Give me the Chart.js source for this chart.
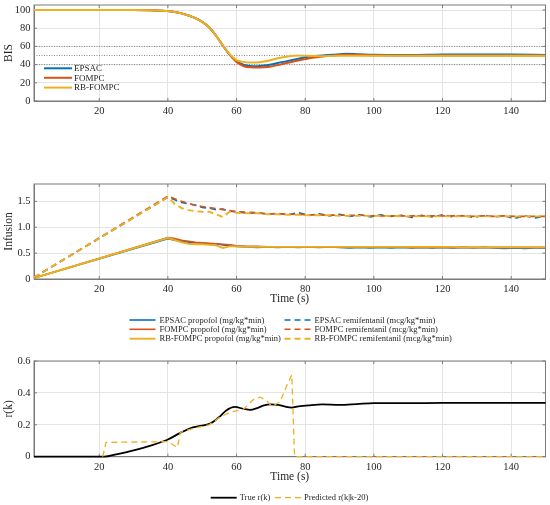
<!DOCTYPE html>
<html>
<head>
<meta charset="utf-8">
<script src="https://cdn.jsdelivr.net/npm/chart.js@4.4.1/dist/chart.umd.min.js"></script>
<style>
  html, body { margin: 0; padding: 0; background: #fff; }
  .panel { position: absolute; left: 0; width: 550px; }
</style>
</head>
<body>
<div class="panel" style="top:0"><canvas id="bisChart" width="550" height="125"></canvas></div>
<div class="panel" style="top:175px"><canvas id="infChart" width="550" height="175"></canvas></div>
<div class="panel" style="top:350px"><canvas id="rChart" width="550" height="155"></canvas></div>
<script>
// 세 개의 패널: BIS, 주입량(infusion), r(k) 예측
const xTicks = [20, 40, 60, 80, 100, 120, 140];

// --- BIS ---
const bisT = [1, 30, 35, 38, 40, 42, 44, 46, 48, 50, 52, 54, 56, 58, 60, 62, 64, 66, 68, 70, 72, 75, 78, 80, 82, 85, 88, 92, 95, 100, 110, 120, 130, 140, 150];
const bisEPSAC = [100, 100, 99.8, 99.3, 98.8, 97.8, 96.3, 94, 91, 87, 81, 72, 61, 51, 44, 40, 38.5, 38.3, 39, 40, 41.8, 44, 46.5, 48, 49.3, 50, 50.8, 51.8, 51.5, 50.7, 50.5, 51, 51.2, 51, 50.6];
const bisFOMPC = [100, 100, 99.8, 99.3, 98.8, 97.8, 96.3, 94, 91, 87, 81, 72, 61, 51, 43, 38.5, 37, 36.8, 37.2, 38, 39.5, 42, 44.5, 46, 47.5, 49, 50, 51, 50.8, 50.3, 50.1, 50, 50, 50, 50];
const bisRB = [100, 100, 99.8, 99.3, 98.8, 97.8, 96.3, 94, 91, 87, 81, 72, 61, 51.5, 45, 43, 42.3, 42.3, 43.3, 45, 47, 49, 50, 49.7, 49.5, 49.3, 49.5, 49.8, 49.8, 49.8, 49.8, 49.6, 49.7, 49.8, 49.8];
const bisRefLevels = [40, 50, 60];
const bisYTicks = [0, 20, 40, 60, 80, 100];

// --- Infusion ---
const infT = [1, 40, 42, 44, 46, 48, 50, 52, 54, 56, 58, 60, 63, 66, 69, 72, 75, 78, 81, 84, 87, 90, 93, 96, 99, 102, 105, 108, 111, 114, 117, 120, 123, 126, 129, 132, 135, 138, 141, 144, 147, 150];
const propEPSAC = [0.02, 0.78, 0.75, 0.73, 0.71, 0.70, 0.69, 0.68, 0.68, 0.66, 0.65, 0.63, 0.62, 0.61, 0.62, 0.61, 0.62, 0.61, 0.62, 0.61, 0.62, 0.61, 0.60, 0.61, 0.60, 0.61, 0.60, 0.61, 0.60, 0.61, 0.60, 0.61, 0.60, 0.61, 0.60, 0.61, 0.60, 0.59, 0.60, 0.59, 0.60, 0.60];
const propFOMPC = [0.02, 0.80, 0.78, 0.75, 0.73, 0.71, 0.70, 0.69, 0.68, 0.67, 0.66, 0.64, 0.63, 0.63, 0.62, 0.62, 0.62, 0.62, 0.62, 0.62, 0.62, 0.62, 0.62, 0.62, 0.62, 0.62, 0.62, 0.62, 0.61, 0.61, 0.61, 0.61, 0.61, 0.61, 0.61, 0.61, 0.61, 0.61, 0.61, 0.61, 0.61, 0.61];
const propRB = [0.02, 0.79, 0.75, 0.71, 0.68, 0.67, 0.67, 0.66, 0.65, 0.60, 0.63, 0.63, 0.62, 0.62, 0.62, 0.62, 0.62, 0.62, 0.62, 0.62, 0.62, 0.62, 0.62, 0.62, 0.62, 0.62, 0.62, 0.62, 0.62, 0.62, 0.62, 0.62, 0.62, 0.61, 0.61, 0.61, 0.61, 0.61, 0.61, 0.61, 0.61, 0.61];
const remiEPSAC = [0.03, 1.58, 1.53, 1.48, 1.45, 1.43, 1.38, 1.37, 1.34, 1.35, 1.31, 1.30, 1.27, 1.28, 1.25, 1.27, 1.24, 1.28, 1.23, 1.26, 1.22, 1.25, 1.21, 1.24, 1.20, 1.24, 1.21, 1.23, 1.19, 1.23, 1.20, 1.24, 1.20, 1.23, 1.19, 1.23, 1.20, 1.22, 1.17, 1.22, 1.18, 1.21];
const remiFOMPC = [0.03, 1.60, 1.55, 1.50, 1.46, 1.42, 1.40, 1.38, 1.36, 1.34, 1.32, 1.30, 1.29, 1.28, 1.26, 1.26, 1.25, 1.25, 1.24, 1.24, 1.23, 1.23, 1.23, 1.23, 1.22, 1.22, 1.22, 1.22, 1.22, 1.22, 1.22, 1.22, 1.22, 1.22, 1.21, 1.22, 1.21, 1.22, 1.21, 1.21, 1.21, 1.21];
const remiRB = [0.03, 1.58, 1.45, 1.37, 1.33, 1.31, 1.30, 1.30, 1.25, 1.20, 1.30, 1.28, 1.27, 1.27, 1.25, 1.25, 1.24, 1.24, 1.23, 1.23, 1.23, 1.22, 1.22, 1.22, 1.22, 1.22, 1.22, 1.21, 1.21, 1.21, 1.21, 1.21, 1.21, 1.21, 1.21, 1.21, 1.21, 1.21, 1.21, 1.21, 1.21, 1.21];
const infYTicks = [0, 0.5, 1, 1.5];

// --- r(k) ---
const trueT = [1, 21.5, 25, 30, 35, 40, 43.5, 46.5, 49.5, 52.5, 55, 57, 59.5, 62, 64, 66, 68, 70, 72, 74, 76, 78, 81, 85, 90, 95, 100, 110, 120, 130, 140, 150];
const trueR = [0, 0, 0.015, 0.04, 0.07, 0.108, 0.148, 0.178, 0.193, 0.21, 0.25, 0.29, 0.312, 0.30, 0.293, 0.305, 0.322, 0.328, 0.325, 0.315, 0.308, 0.315, 0.322, 0.328, 0.325, 0.33, 0.336, 0.336, 0.337, 0.337, 0.338, 0.338];
const predT = [21, 22, 40, 42.8, 43.6, 47, 52, 55, 58, 62, 65, 67, 69, 70.3, 72.7, 74.7, 76.1, 76.9, 150];
const predR = [0, 0.09, 0.094, 0.058, 0.152, 0.175, 0.2, 0.245, 0.278, 0.297, 0.36, 0.373, 0.345, 0.314, 0.345, 0.45, 0.513, 0, 0];
const rYTicks = [0, 0.2, 0.4, 0.6];

const BLUE = "#0072BD", ORANGE = "#D95319", YELLOW = "#EDB120";
const GRID = "#e4e4e4", FRAME = "#7a7a7a", TXT = "#262626";
const SERIF = "'Liberation Serif', 'Times New Roman', serif";
const DASH = [6, 4];

function pts(xs, ys) {
  return xs.map((x, i) => ({ x: x, y: ys[i] }));
}

function line(label, xs, ys, color, extra) {
  return Object.assign({
    label: label, data: pts(xs, ys),
    borderColor: color, backgroundColor: color,
    borderWidth: 1.6, pointRadius: 0, tension: 0, fill: false,
  }, extra || {});
}

// 테두리(위/오른쪽 포함)와 안쪽 눈금 — 데이터 선 아래에 그린다
const frame = {
  id: "frame",
  beforeDatasetsDraw(chart) {
    const a = chart.chartArea, ctx = chart.ctx;
    const xs = chart.scales.x, ys = chart.scales.y;
    ctx.save();
    ctx.strokeStyle = FRAME;
    ctx.lineWidth = 1;
    ctx.strokeRect(a.left, a.top, a.right - a.left, a.bottom - a.top);
    ctx.beginPath();
    xs.ticks.forEach((t) => {
      const px = xs.getPixelForValue(t.value);
      ctx.moveTo(px, a.bottom); ctx.lineTo(px, a.bottom - 3);
      ctx.moveTo(px, a.top); ctx.lineTo(px, a.top + 3);
    });
    ys.ticks.forEach((t) => {
      const py = ys.getPixelForValue(t.value);
      ctx.moveTo(a.left, py); ctx.lineTo(a.left + 3, py);
      ctx.moveTo(a.right, py); ctx.lineTo(a.right - 3, py);
    });
    ctx.stroke();
    ctx.restore();
  },
};

// MATLAB 스타일 범례 — 위치는 옵션에서
const lineLegend = {
  id: "lineLegend",
  afterDraw(chart, args, o) {
    if (!o.entries) return;
    const ctx = chart.ctx;
    ctx.save();
    ctx.font = o.textFont;
    ctx.textBaseline = "middle";
    ctx.fillStyle = TXT;
    o.entries.forEach((e) => {
      const ds = chart.data.datasets[e.ds];
      ctx.strokeStyle = ds.borderColor;
      ctx.lineWidth = ds.borderWidth;
      ctx.setLineDash(ds.borderDash || []);
      ctx.beginPath();
      ctx.moveTo(e.x, e.y);
      ctx.lineTo(e.x + o.lineLen, e.y);
      ctx.stroke();
      ctx.setLineDash([]);
      ctx.fillText(ds.label, e.x + o.lineLen + o.gap, e.y + 0.5);
    });
    ctx.restore();
  },
};

function xScale(title) {
  return {
    type: "linear", min: 1, max: 150,
    afterBuildTicks: (s) => { s.ticks = xTicks.map((v) => ({ value: v })); },
    afterFit: (s) => {
      s.height = title ? 31 : 24;
      s.paddingLeft = 0; s.paddingRight = 0;
    },
    grid: { color: GRID, drawTicks: false },
    border: { color: FRAME },
    ticks: { padding: 4, color: TXT, font: { family: SERIF, size: 10.5 }, maxRotation: 0 },
    title: {
      display: !!title, text: title || "", color: TXT,
      font: { family: SERIF, size: 11.5 }, padding: { top: 0, bottom: 4 },
    },
  };
}

function yScale(title, max, tickVals) {
  return {
    type: "linear", min: 0, max: max,
    afterBuildTicks: (s) => { s.ticks = tickVals.map((v) => ({ value: v })); },
    afterFit: (s) => {
      s.width = 34;
      s.paddingTop = 0; s.paddingBottom = 0;
    },
    grid: { color: GRID, drawTicks: false },
    border: { color: FRAME },
    ticks: { padding: 3.5, color: TXT, font: { family: SERIF, size: 10.5 } },
    title: {
      display: true, text: title, color: TXT,
      font: { family: SERIF, size: 11.5 }, padding: { top: 2, bottom: 0 },
    },
  };
}

function baseOptions(pad, ytitle, ymax, yticks, xtitle, legend) {
  return {
    responsive: false,
    animation: false,
    layout: { padding: pad },
    plugins: { legend: { display: false }, tooltip: { enabled: false }, lineLegend: legend },
    scales: { x: xScale(xtitle), y: yScale(ytitle, ymax, yticks) },
  };
}

document.addEventListener("DOMContentLoaded", function () {
  const smooth = { cubicInterpolationMode: "monotone", borderWidth: 2 };

  // BIS
  const refSets = bisRefLevels.map((v) =>
    line("ref" + v, [1, 150], [v, v], "#7a7a7a", { borderWidth: 0.9, borderDash: [1, 1.5], order: 10 }));
  new Chart(document.getElementById("bisChart"), {
    type: "line",
    data: {
      datasets: [
        line("EPSAC", bisT, bisEPSAC, BLUE, Object.assign({ order: 3 }, smooth)),
        line("FOMPC", bisT, bisFOMPC, ORANGE, Object.assign({ order: 2 }, smooth)),
        line("RB-FOMPC", bisT, bisRB, YELLOW, Object.assign({ order: 1 }, smooth)),
      ].concat(refSets),
    },
    options: baseOptions({ top: 5, right: 4.5, left: 0, bottom: 0 }, "BIS", 105.5, bisYTicks, null, {
      textFont: "9px " + SERIF, lineLen: 28, gap: 2,
      entries: [{ ds: 0, x: 44, y: 68.3 }, { ds: 1, x: 44, y: 77.8 }, { ds: 2, x: 44, y: 87.6 }],
    }),
    plugins: [frame, lineLegend],
  });

  // Infusion
  new Chart(document.getElementById("infChart"), {
    type: "line",
    data: {
      datasets: [
        line("EPSAC propofol (mg/kg*min)", infT, propEPSAC, BLUE, { order: 6 }),
        line("FOMPC propofol (mg/kg*min)", infT, propFOMPC, ORANGE, { order: 5 }),
        line("RB-FOMPC propofol (mg/kg*min)", infT, propRB, YELLOW, { order: 4, borderWidth: 1.9 }),
        line("EPSAC remifentanil (mcg/kg*min)", infT, remiEPSAC, BLUE, { order: 3, borderDash: DASH }),
        line("FOMPC remifentanil (mcg/kg*min)", infT, remiFOMPC, ORANGE, { order: 2, borderDash: DASH }),
        line("RB-FOMPC remifentanil (mcg/kg*min)", infT, remiRB, YELLOW, { order: 1, borderDash: DASH, borderWidth: 1.9 }),
      ],
    },
    options: baseOptions({ top: 9, right: 4.5, left: 0, bottom: 40 }, "Infusion", 1.835, infYTicks, "Time (s)", {
      textFont: "8.5px " + SERIF, lineLen: 26, gap: 4,
      entries: [
        { ds: 0, x: 129.5, y: 145 }, { ds: 1, x: 129.5, y: 154.3 }, { ds: 2, x: 129.5, y: 163.7 },
        { ds: 3, x: 284.5, y: 145 }, { ds: 4, x: 284.5, y: 154.3 }, { ds: 5, x: 284.5, y: 163.7 },
      ],
    }),
    plugins: [frame, lineLegend],
  });

  // r(k)
  new Chart(document.getElementById("rChart"), {
    type: "line",
    data: {
      datasets: [
        line("True r(k)", trueT, trueR, "#000000", Object.assign({ order: 2 }, smooth, { borderWidth: 1.8, clip: 3 })),
        line("Predicted r(k|k-20)", predT, predR, YELLOW, { order: 1, borderWidth: 1.3, borderDash: DASH, clip: 3 }),
      ],
    },
    options: baseOptions({ top: 11, right: 4.5, left: 0, bottom: 17.3 }, "r(k)", 0.6, rYTicks, "Time (s)", {
      textFont: "8.5px " + SERIF, lineLen: 26, gap: 3,
      entries: [{ ds: 0, x: 210.7, y: 147.7 }, { ds: 1, x: 275, y: 147.7 }],
    }),
    plugins: [frame, lineLegend],
  });
});
</script>
</body>
</html>
